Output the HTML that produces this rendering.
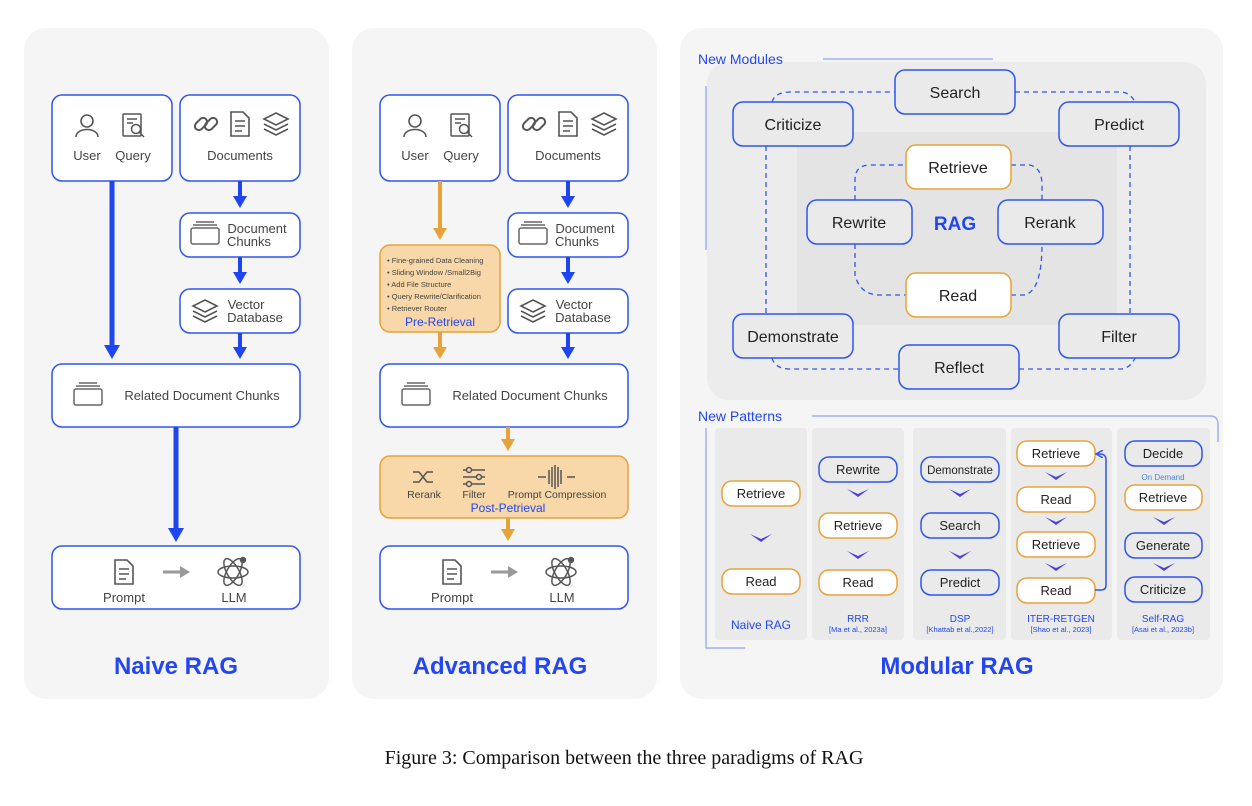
<!DOCTYPE html>
<html><head><meta charset="utf-8"><style>
html,body{margin:0;padding:0;background:#fff;}
svg{display:block;}
text{font-family:"Liberation Sans",sans-serif;}
</style></head><body>
<svg width="1252" height="806" viewBox="0 0 1252 806" xmlns="http://www.w3.org/2000/svg">
<defs>
<marker id="ab" markerWidth="14" markerHeight="14" refX="8" refY="7" orient="auto" markerUnits="userSpaceOnUse"><path d="M0,0 L12,7 L0,14z" fill="#1f45f0"/></marker>
<marker id="ab2" markerWidth="16" markerHeight="16" refX="8" refY="8" orient="auto" markerUnits="userSpaceOnUse"><path d="M0,0 L14,8 L0,16z" fill="#1f45f0"/></marker>
<marker id="ao" markerWidth="14" markerHeight="14" refX="8" refY="7" orient="auto" markerUnits="userSpaceOnUse"><path d="M0,0 L12,7 L0,14z" fill="#e8a23a"/></marker>
<marker id="ag" markerWidth="12" markerHeight="12" refX="6" refY="6" orient="auto" markerUnits="userSpaceOnUse"><path d="M0,0 L10,6 L0,12z" fill="#999"/></marker>
<marker id="al" markerWidth="8" markerHeight="8" refX="6" refY="4" orient="auto" markerUnits="userSpaceOnUse"><path d="M0,0 L7,4 L0,8" fill="none" stroke="#2f55f0" stroke-width="1.5"/></marker>
<g id="person" fill="none" stroke="#555" stroke-width="1.6"><circle cx="0" cy="-6" r="6"/><path d="M-11,10 C-11,0 11,0 11,10"/></g>
<g id="query" fill="none" stroke="#555" stroke-width="1.5"><rect x="-10" y="-12" width="18" height="22" rx="1"/><path d="M-6,-7h10M-6,-3h6"/><circle cx="3" cy="3" r="4.5"/><path d="M6,6l5,5"/></g>
<g id="link" fill="none" stroke="#555" stroke-width="2"><rect x="-12" y="-4" width="14" height="8" rx="4" transform="rotate(-45 -5 0)"/><rect x="-2" y="-4" width="14" height="8" rx="4" transform="rotate(-45 5 0)"/></g>
<g id="doc" fill="none" stroke="#555" stroke-width="1.6"><path d="M-9,-12h12l6,6v18h-18z"/><path d="M-5,-3h10M-5,2h10M-5,7h7"/></g>
<g id="layers" fill="none" stroke="#555" stroke-width="1.6"><path d="M0,-11l12,6l-12,6l-12,-6z"/><path d="M-12,0l12,6l12,-6M-12,5l12,6l12,-6"/></g>
<g id="chunk" fill="none" stroke="#666" stroke-width="1.5"><rect x="-14" y="-7" width="28" height="16" rx="2"/><path d="M-12,-10h24M-9,-13h18"/></g>
<g id="atom" fill="none" stroke="#555" stroke-width="1.5"><ellipse rx="15" ry="6"/><ellipse rx="15" ry="6" transform="rotate(60)"/><ellipse rx="15" ry="6" transform="rotate(-60)"/><circle cx="10" cy="-12" r="2.5" fill="#555"/></g>
</defs>

<rect x="24" y="28" width="305" height="671" rx="22" fill="#f5f5f5"/>
<rect x="352" y="28" width="305" height="671" rx="22" fill="#f5f5f5"/>
<rect x="680" y="28" width="543" height="671" rx="22" fill="#f5f5f5"/>

<!-- NAIVE -->
<g stroke="#2f55f0" stroke-width="1.5" fill="#fff">
<rect x="52" y="95" width="120" height="86" rx="10"/>
<rect x="180" y="95" width="120" height="86" rx="10"/>
<rect x="180" y="213" width="120" height="44" rx="10"/>
<rect x="180" y="289" width="120" height="44" rx="10"/>
<rect x="52" y="364" width="248" height="63" rx="10"/>
<rect x="52" y="546" width="248" height="63" rx="10"/>
</g>
<g stroke="#1f45f0" fill="none">
<path d="M112,181V353" stroke-width="5" marker-end="url(#ab2)"/>
<path d="M240,181V204" stroke-width="4" marker-end="url(#ab)"/>
<path d="M240,257V280" stroke-width="4" marker-end="url(#ab)"/>
<path d="M240,333V355" stroke-width="4" marker-end="url(#ab)"/>
<path d="M176,427V536" stroke-width="5" marker-end="url(#ab2)"/>
</g>
<g font-size="13" fill="#444" text-anchor="middle">
<use href="#person" x="87" y="127"/><use href="#query" x="133" y="126"/>
<text x="87" y="160">User</text><text x="133" y="160">Query</text>
<use href="#link" x="206" y="124"/><use href="#doc" x="240" y="124"/><use href="#layers" x="276" y="124"/>
<text x="240" y="160">Documents</text>
<use href="#chunk" x="205" y="235"/>
<text x="257" y="233">Document</text><text x="249" y="246">Chunks</text>
<use href="#layers" x="205" y="311"/>
<text x="246" y="309">Vector</text><text x="255" y="322">Database</text>
<use href="#chunk" x="88" y="396"/>
<text x="202" y="400">Related Document Chunks</text>
<use href="#doc" x="124" y="572"/><use href="#atom" x="233" y="572"/>
<path d="M163,572H186" stroke="#999" stroke-width="3" marker-end="url(#ag)"/>
<text x="124" y="602">Prompt</text><text x="234" y="602">LLM</text>
</g>
<text x="176" y="674" font-size="24" font-weight="bold" fill="#2346f0" text-anchor="middle">Naive RAG</text>

<!-- ADVANCED -->
<g stroke="#2f55f0" stroke-width="1.5" fill="#fff">
<rect x="380" y="95" width="120" height="86" rx="10"/>
<rect x="508" y="95" width="120" height="86" rx="10"/>
<rect x="508" y="213" width="120" height="44" rx="10"/>
<rect x="508" y="289" width="120" height="44" rx="10"/>
<rect x="380" y="364" width="248" height="63" rx="10"/>
<rect x="380" y="546" width="248" height="63" rx="10"/>
</g>
<g stroke="#e8a23a" stroke-width="1.5" fill="#f8d7a8">
<rect x="380" y="245" width="120" height="87" rx="10"/>
<rect x="380" y="456" width="248" height="62" rx="10"/>
</g>
<g fill="none">
<path d="M440,181V236" stroke="#e8a23a" stroke-width="4" marker-end="url(#ao)"/>
<path d="M440,332V355" stroke="#e8a23a" stroke-width="4" marker-end="url(#ao)"/>
<path d="M508,427V447" stroke="#e8a23a" stroke-width="4" marker-end="url(#ao)"/>
<path d="M508,518V537" stroke="#e8a23a" stroke-width="4" marker-end="url(#ao)"/>
<path d="M568,181V204" stroke="#1f45f0" stroke-width="4" marker-end="url(#ab)"/>
<path d="M568,257V280" stroke="#1f45f0" stroke-width="4" marker-end="url(#ab)"/>
<path d="M568,333V355" stroke="#1f45f0" stroke-width="4" marker-end="url(#ab)"/>
</g>
<g font-size="13" fill="#444" text-anchor="middle">
<use href="#person" x="415" y="127"/><use href="#query" x="461" y="126"/>
<text x="415" y="160">User</text><text x="461" y="160">Query</text>
<use href="#link" x="534" y="124"/><use href="#doc" x="568" y="124"/><use href="#layers" x="604" y="124"/>
<text x="568" y="160">Documents</text>
<use href="#chunk" x="533" y="235"/>
<text x="585" y="233">Document</text><text x="577" y="246">Chunks</text>
<use href="#layers" x="533" y="311"/>
<text x="574" y="309">Vector</text><text x="583" y="322">Database</text>
<use href="#chunk" x="416" y="396"/>
<text x="530" y="400">Related Document Chunks</text>
<use href="#doc" x="452" y="572"/><use href="#atom" x="561" y="572"/>
<path d="M491,572H514" stroke="#999" stroke-width="3" marker-end="url(#ag)"/>
<text x="452" y="602">Prompt</text><text x="562" y="602">LLM</text>
</g>
<g font-size="7.5" fill="#444">
<text x="387" y="263">• Fine-grained Data Cleaning</text>
<text x="387" y="275">• Sliding Window /Small2Big</text>
<text x="387" y="287">• Add File Structure</text>
<text x="387" y="299">• Query Rewrite/Clarification</text>
<text x="387" y="311">• Retriever Router</text>
</g>
<text x="440" y="326" font-size="12" fill="#2346f0" text-anchor="middle">Pre-Retrieval</text>
<g fill="none" stroke="#555" stroke-width="1.5">
<path d="M413,472h6l8,10h6M413,482h6l8,-10h6"/>
<path d="M463,470h22M463,477h22M463,484h22"/><circle cx="469" cy="470" r="2.5" fill="#f8d7a8"/><circle cx="479" cy="477" r="2.5" fill="#f8d7a8"/><circle cx="469" cy="484" r="2.5" fill="#f8d7a8"/>
<path d="M538,477h8M575,477h-8M549,470v14M552,467v20M555,465v24M558,467v20M561,470v14"/>
</g>
<g font-size="10.5" fill="#444" text-anchor="middle">
<text x="424" y="498">Rerank</text><text x="474" y="498">Filter</text><text x="557" y="498">Prompt Compression</text>
</g>
<text x="508" y="512" font-size="12" fill="#2346f0" text-anchor="middle">Post-Petrieval</text>
<text x="500" y="674" font-size="24" font-weight="bold" fill="#2346f0" text-anchor="middle">Advanced RAG</text>

<!-- MODULAR: modules -->
<rect x="707" y="62" width="499" height="338" rx="22" fill="#ececec"/>
<text x="698" y="64" font-size="14" fill="#2346f0">New Modules</text>
<path d="M823,59H993" stroke="#9fb0f5" stroke-width="1.5"/>
<path d="M706,86V250" stroke="#9fb0f5" stroke-width="1.5"/>
<rect x="797" y="132" width="320" height="193" rx="6" fill="#e4e4e4"/>
<g fill="none" stroke="#2f55f0" stroke-width="1.3" stroke-dasharray="5,4">
<path d="M772,102 Q775,92 790,92 H895 M1015,92 H1120 Q1130,92 1135,102"/>
<path d="M766,146V314 M1130,146V314"/>
<path d="M772,358 Q775,369 790,369 H899 M1019,369 H1120 Q1130,369 1135,358"/>
<path d="M855,200 V180 Q855,165 870,165 H906 M1011,165 H1030 Q1042,168 1042,185 V200"/>
<path d="M855,244 V275 Q860,295 880,295 H906 M1011,295 H1025 Q1042,290 1042,244"/>
</g>
<g stroke="#2f55f0" stroke-width="1.5" fill="#eaeaea">
<rect x="895" y="70" width="120" height="44" rx="10"/>
<rect x="733" y="102" width="120" height="44" rx="10"/>
<rect x="1059" y="102" width="120" height="44" rx="10"/>
<rect x="807" y="200" width="105" height="44" rx="10"/>
<rect x="998" y="200" width="105" height="44" rx="10"/>
<rect x="733" y="314" width="120" height="44" rx="10"/>
<rect x="1059" y="314" width="120" height="44" rx="10"/>
<rect x="899" y="345" width="120" height="44" rx="10"/>
</g>
<g stroke="#e8a23a" stroke-width="1.5" fill="#fff">
<rect x="906" y="145" width="105" height="44" rx="10"/>
<rect x="906" y="273" width="105" height="44" rx="10"/>
</g>
<g font-size="16" fill="#222" text-anchor="middle">
<text x="955" y="98">Search</text><text x="793" y="130">Criticize</text><text x="1119" y="130">Predict</text>
<text x="958" y="173">Retrieve</text><text x="859" y="228">Rewrite</text><text x="1050" y="228">Rerank</text>
<text x="958" y="301">Read</text><text x="793" y="342">Demonstrate</text><text x="1119" y="342">Filter</text><text x="959" y="373">Reflect</text>
</g>
<text x="955" y="230" font-size="19" font-weight="bold" fill="#2346f0" text-anchor="middle">RAG</text>

<!-- patterns -->
<text x="698" y="421" font-size="14" fill="#2346f0">New Patterns</text>
<path d="M812,416H1210 Q1218,416 1218,424V442" fill="none" stroke="#9fb0f5" stroke-width="1.5"/>
<path d="M706,428V648H745" fill="none" stroke="#9fb0f5" stroke-width="1.5"/>
<g fill="#eaeaea">
<rect x="715" y="428" width="92" height="212" rx="4"/>
<rect x="812" y="428" width="92" height="212" rx="4"/>
<rect x="913" y="428" width="93" height="212" rx="4"/>
<rect x="1011" y="428" width="101" height="212" rx="4"/>
<rect x="1117" y="428" width="93" height="212" rx="4"/>
</g>
<g stroke-width="1.5" fill="#fff">
<rect x="722" y="481" width="78" height="25" rx="10" stroke="#e8a23a"/>
<rect x="722" y="569" width="78" height="25" rx="10" stroke="#e8a23a"/>
<rect x="819" y="457" width="78" height="25" rx="10" stroke="#2f55f0" fill="#eaeaea"/>
<rect x="819" y="513" width="78" height="25" rx="10" stroke="#e8a23a"/>
<rect x="819" y="570" width="78" height="25" rx="10" stroke="#e8a23a"/>
<rect x="921" y="457" width="78" height="25" rx="10" stroke="#2f55f0" fill="#eaeaea"/>
<rect x="921" y="513" width="78" height="25" rx="10" stroke="#2f55f0" fill="#eaeaea"/>
<rect x="921" y="570" width="78" height="25" rx="10" stroke="#2f55f0" fill="#eaeaea"/>
<rect x="1017" y="441" width="78" height="25" rx="10" stroke="#e8a23a"/>
<rect x="1017" y="487" width="78" height="25" rx="10" stroke="#e8a23a"/>
<rect x="1017" y="532" width="78" height="25" rx="10" stroke="#e8a23a"/>
<rect x="1017" y="578" width="78" height="25" rx="10" stroke="#e8a23a"/>
<rect x="1125" y="441" width="77" height="25" rx="10" stroke="#2f55f0" fill="#eaeaea"/>
<rect x="1125" y="485" width="77" height="25" rx="10" stroke="#e8a23a"/>
<rect x="1125" y="533" width="77" height="25" rx="10" stroke="#2f55f0" fill="#eaeaea"/>
<rect x="1125" y="577" width="77" height="25" rx="10" stroke="#2f55f0" fill="#eaeaea"/>
</g>
<path d="M1095,590H1101Q1106,590 1106,585V460Q1106,454 1100,454H1097" fill="none" stroke="#2f55f0" stroke-width="1.5" marker-end="url(#al)"/>
<g fill="#4a3ee0">
<path d="M750,534l11,5l11,-5l-11,8z"/>
<path d="M847,489l11,5l11,-5l-11,8z"/><path d="M847,551l11,5l11,-5l-11,8z"/>
<path d="M949,489l11,5l11,-5l-11,8z"/><path d="M949,551l11,5l11,-5l-11,8z"/>
<path d="M1045,472l11,5l11,-5l-11,8z"/><path d="M1045,517l11,5l11,-5l-11,8z"/><path d="M1045,563l11,5l11,-5l-11,8z"/>
<path d="M1153,517l11,5l11,-5l-11,8z"/><path d="M1153,563l11,5l11,-5l-11,8z"/>
</g>
<g font-size="13" fill="#222" text-anchor="middle">
<text x="761" y="498">Retrieve</text><text x="761" y="586">Read</text>
<text x="858" y="474">Rewrite</text><text x="858" y="530">Retrieve</text><text x="858" y="587">Read</text>
<text x="960" y="474" font-size="11.5">Demonstrate</text><text x="960" y="530">Search</text><text x="960" y="587">Predict</text>
<text x="1056" y="458">Retrieve</text><text x="1056" y="504">Read</text><text x="1056" y="549">Retrieve</text><text x="1056" y="595">Read</text>
<text x="1163" y="458">Decide</text><text x="1163" y="502">Retrieve</text><text x="1163" y="550">Generate</text><text x="1163" y="594">Criticize</text>
</g>
<text x="1163" y="480" font-size="8" fill="#4a86d8" text-anchor="middle">On Demand</text>
<g fill="#2346f0" text-anchor="middle">
<text x="761" y="629" font-size="12">Naive RAG</text>
<text x="858" y="622" font-size="10">RRR</text><text x="858" y="632" font-size="7.5">[Ma et al., 2023a]</text>
<text x="960" y="622" font-size="10">DSP</text><text x="960" y="632" font-size="7.5">[Khattab et al.,2022]</text>
<text x="1061" y="622" font-size="10">ITER-RETGEN</text><text x="1061" y="632" font-size="7.5">[Shao et al., 2023]</text>
<text x="1163" y="622" font-size="10">Self-RAG</text><text x="1163" y="632" font-size="7.5">[Asai et al., 2023b]</text>
</g>
<text x="957" y="674" font-size="24" font-weight="bold" fill="#2346f0" text-anchor="middle">Modular RAG</text>

<text x="624" y="764" font-size="20" fill="#111" text-anchor="middle" style="font-family:'Liberation Serif',serif">Figure 3: Comparison between the three paradigms of RAG</text>
</svg>
</body></html>
